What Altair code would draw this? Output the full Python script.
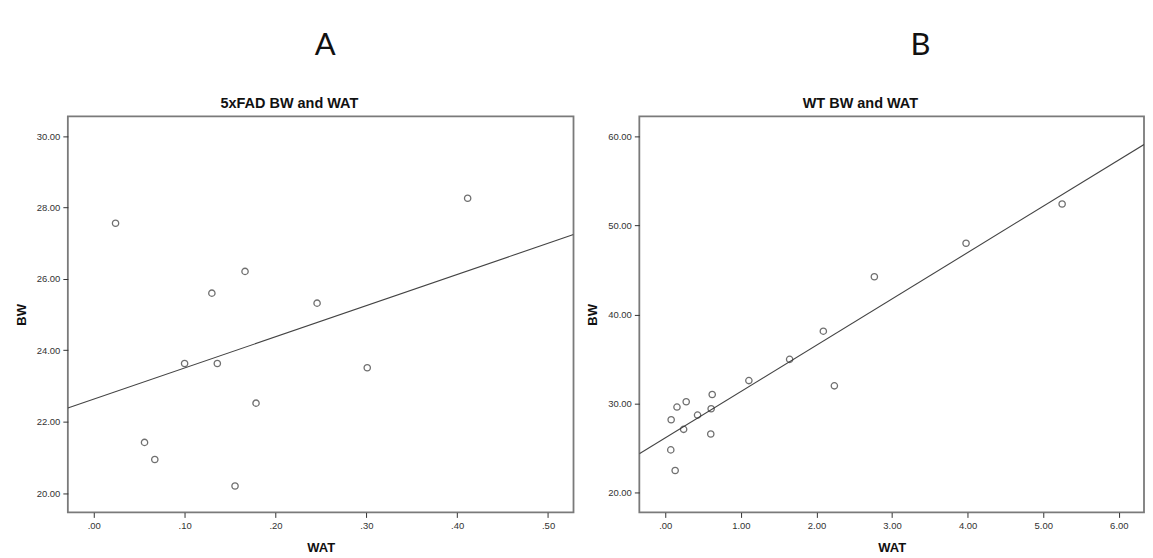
import altair as alt
import pandas as pd

# ---- data ----
# Panel A: 5xFAD
a_wat = [0.024, 0.4115, 0.1665, 0.130, 0.2458, 0.100, 0.136, 0.301, 0.1786, 0.0559, 0.0672, 0.1555]
a_bw = [27.56, 28.26, 26.21, 25.60, 25.32, 23.63, 23.63, 23.51, 22.52, 21.42, 20.94, 20.20]
a_xticks = [0.0, 0.1, 0.2, 0.3, 0.4, 0.5]
a_yticks = [20, 22, 24, 26, 28, 30]

# Panel B: WT
b_wat = [5.250, 3.979, 2.766, 2.091, 1.645, 1.106, 2.237, 0.621, 0.277, 0.155,
         0.607, 0.427, 0.078, 0.243, 0.602, 0.073, 0.131]
b_bw = [52.38, 47.98, 44.23, 38.12, 34.96, 32.58, 31.99, 31.02, 30.20, 29.61,
        29.42, 28.71, 28.19, 27.11, 26.59, 24.81, 22.50]
b_xticks = [0, 1, 2, 3, 4, 5, 6]
b_yticks = [20, 30, 40, 50, 60]

titles = ["5xFAD BW and WAT", "WT BW and WAT"]
letters = ["A", "B"]

FONT = "Liberation Sans"
LABEL_EXPR = ("datum.value >= 0 && datum.value < 1 ? "
              "substring(format(datum.value, '.2f'), 1) : format(datum.value, '.2f')")


def panel(wat, bw, title, xdom, ydom, xticks, yticks, width):
    df = pd.DataFrame({"WAT": wat, "BW": bw})
    xs = alt.Scale(domain=xdom, nice=False, zero=False)
    ys = alt.Scale(domain=ydom, nice=False, zero=False)
    xax = alt.Axis(values=xticks, labelExpr=LABEL_EXPR, title="WAT", titlePadding=12)
    yax = alt.Axis(values=yticks, format=".2f", title="BW", titlePadding=8)
    x = alt.X("WAT:Q", scale=xs, axis=xax)
    y = alt.Y("BW:Q", scale=ys, axis=yax)
    base = alt.Chart(df)
    line = base.transform_regression("WAT", "BW", extent=xdom).mark_line(
        color="#444444", strokeWidth=1.1, clip=True
    ).encode(x=x, y=y)
    pts = base.mark_point(
        shape="circle", filled=False, size=40, color="#333333", strokeWidth=1.3
    ).encode(x=x, y=y)
    return alt.layer(line, pts).properties(
        width=width,
        height=397,
        title=alt.Title(title, fontSize=14.5, fontWeight="bold", font=FONT,
                        color="#111111", offset=5, frame="bounds", dx=-5),
    )


pa = panel(a_wat, a_bw, titles[0], [-0.0285, 0.528], [19.46, 30.55], a_xticks, a_yticks, 507)
pb = panel(b_wat, b_bw, titles[1], [-0.343, 6.333], [17.8, 62.2], b_xticks, b_yticks, 506)

ldf = pd.DataFrame({"t": [0]})
la = alt.Chart(ldf).mark_text(text=letters[0], fontSize=31, font="Lato", color="#111111",
                              align="center", baseline="middle").encode(
    x=alt.value(258), y=alt.value(37))
lb = alt.Chart(ldf).mark_text(text=letters[1], fontSize=31, font="Lato", color="#111111",
                              align="center", baseline="middle").encode(
    x=alt.value(855), y=alt.value(37))
row1 = alt.layer(la, lb).properties(width=1000, height=60,
                                    view=alt.ViewBackground(strokeOpacity=0))

row2 = alt.hconcat(pa, pb, spacing=11)

chart = alt.vconcat(row1, row2, spacing=26).properties(
    padding={"left": 6, "top": 0, "right": 0, "bottom": 0}
).configure_view(
    stroke="#7a7a7a", strokeWidth=1.8
).configure_axis(
    domain=False, grid=False, tickSize=5, tickColor="#333333", tickWidth=1,
    labelColor="#333333", labelFontSize=9.5, labelFont=FONT, labelPadding=3,
    titleFont=FONT, titleFontSize=13, titleFontWeight="bold", titleColor="#111111",
)

chart.save("out.html", embed_options={"renderer": "svg", "actions": False})
